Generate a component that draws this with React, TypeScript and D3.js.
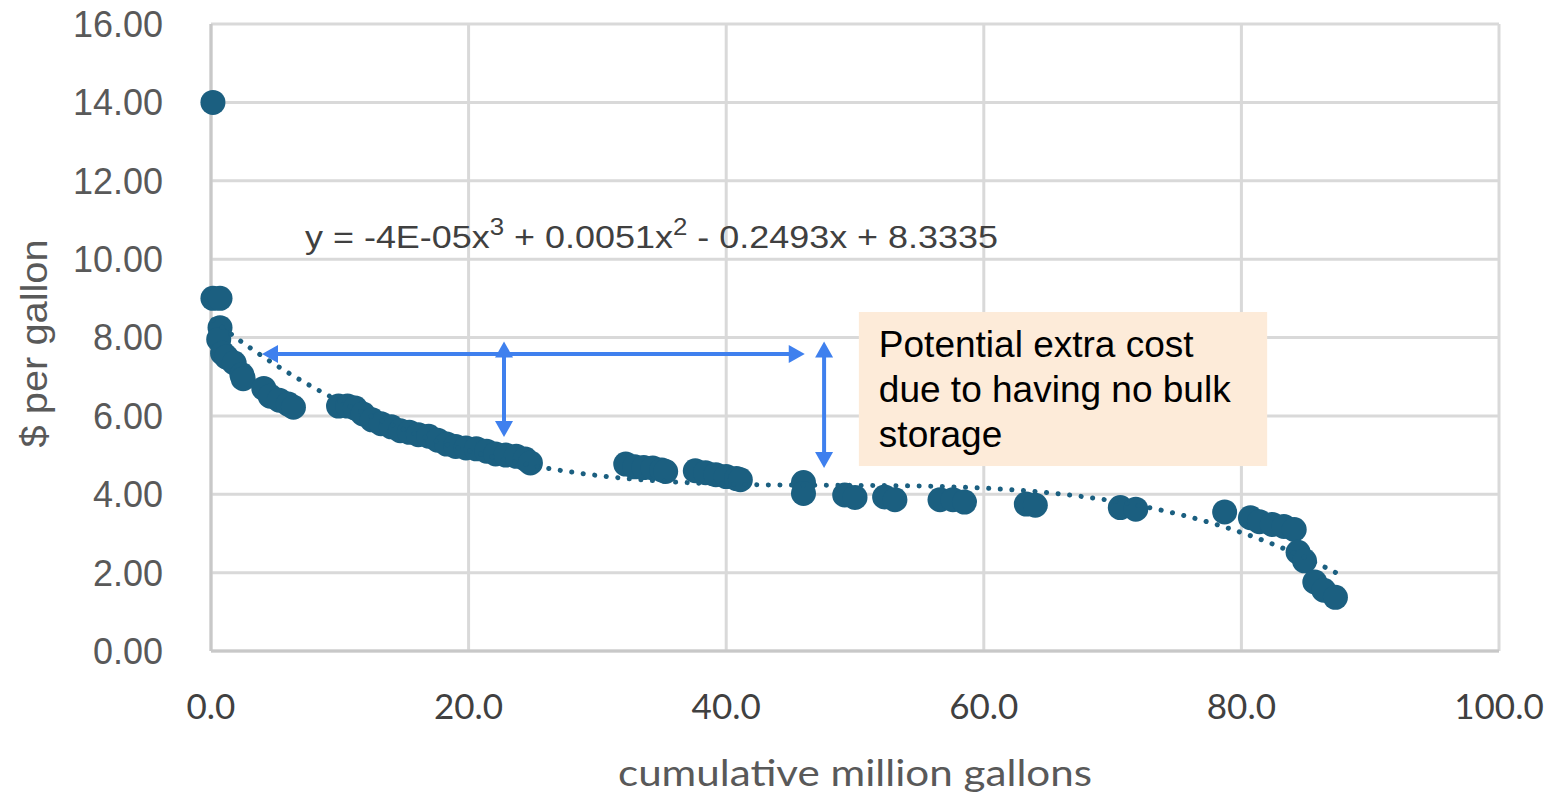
import React from 'react';
import * as d3 from 'd3';

// cumulative million gallons (x) and $ per gallon (y)
const gallons = [
  0.15, 0.15, 0.7, 0.7, 0.6, 0.9, 1.2, 1.8, 2.4, 2.5,
  4.1, 4.6, 5.3, 6.0, 6.4,
  9.9, 10.6, 11.2, 11.8, 12.5, 13.2, 14.0, 14.7, 15.4, 16.1, 16.9, 17.6, 18.3, 19.0, 19.8,
  20.6, 21.4, 22.1, 22.9, 23.7, 24.4, 24.8,
  32.2, 32.9, 33.6, 34.3, 35.0, 35.3,
  37.6, 38.4, 39.2, 40.0, 40.8, 41.1,
  46.0, 46.0, 49.2, 50.0, 52.3, 53.1, 56.6, 57.6, 58.5, 63.3, 64.0,
  70.6, 71.8, 78.7, 80.7, 81.4, 82.4, 83.3, 84.1, 84.4, 84.9, 85.7, 86.4, 87.3,
];
const price = [
  14.0, 9.0, 9.0, 8.25, 7.95, 7.6, 7.5, 7.35, 7.05, 6.95,
  6.7, 6.5, 6.4, 6.3, 6.22,
  6.25, 6.25, 6.2, 6.05, 5.9, 5.8, 5.72, 5.62, 5.58, 5.52, 5.48, 5.38, 5.28, 5.22, 5.18,
  5.16, 5.1, 5.03, 5.0, 4.97, 4.9, 4.8,
  4.77, 4.7, 4.68, 4.67, 4.62, 4.58,
  4.6, 4.55, 4.5, 4.45, 4.4, 4.37,
  4.3, 4.02, 3.98, 3.92, 3.93, 3.86, 3.86, 3.86, 3.8, 3.75, 3.72,
  3.66, 3.62, 3.55, 3.4, 3.3, 3.23, 3.18, 3.1, 2.52, 2.3, 1.76, 1.55, 1.37,
];

const xTicks = [0, 20, 40, 60, 80, 100];
const yTicks = [0, 2, 4, 6, 8, 10, 12, 14, 16];

const boxLines = ['Potential extra cost', 'due to having no bulk', 'storage'];

// annotation arrows in data units [x1, y1, x2, y2]
const arrows = [
  [3.96, 7.58, 46.1, 7.58],
  [22.75, 7.9, 22.75, 5.46],
  [47.6, 7.9, 47.6, 4.67],
];

const W = 1552;
const H = 795;
const margin = { left: 211, right: 53, top: 24, bottom: 144 };

// least squares cubic, like the Excel trendline
function cubicFit(xs: number[], ys: number[]) {
  const n = 4;
  const A = Array.from({ length: n }, () => new Array(n + 1).fill(0));
  xs.forEach((x, k) => {
    for (let i = 0; i < n; i++) {
      for (let j = 0; j < n; j++) A[i][j] += Math.pow(x, i + j);
      A[i][n] += ys[k] * Math.pow(x, i);
    }
  });
  for (let c = 0; c < n; c++) {
    let p = c;
    for (let r = c + 1; r < n; r++) if (Math.abs(A[r][c]) > Math.abs(A[p][c])) p = r;
    [A[c], A[p]] = [A[p], A[c]];
    for (let r = 0; r < n; r++) {
      if (r === c) continue;
      const f = A[r][c] / A[c][c];
      for (let k = c; k <= n; k++) A[r][k] -= f * A[c][k];
    }
  }
  return A.map((row, i) => row[n] / row[i]);
}

function Arrow({ x1, y1, x2, y2 }: { x1: number; y1: number; x2: number; y2: number }) {
  const len = Math.hypot(x2 - x1, y2 - y1);
  const ux = (x2 - x1) / len;
  const uy = (y2 - y1) / len;
  const hl = 16;
  const hw = 9;
  const head = (tx: number, ty: number, dx: number, dy: number) => {
    const bx = tx - dx * hl;
    const by = ty - dy * hl;
    return `M${tx},${ty}L${bx - dy * hw},${by + dx * hw}L${bx + dy * hw},${by - dx * hw}Z`;
  };
  return (
    <g fill="#3f80ee" stroke="none">
      <line
        x1={x1 + ux * (hl - 2)}
        y1={y1 + uy * (hl - 2)}
        x2={x2 - ux * (hl - 2)}
        y2={y2 - uy * (hl - 2)}
        stroke="#3f80ee"
        strokeWidth={4}
      />
      <path d={head(x2, y2, ux, uy)} />
      <path d={head(x1, y1, -ux, -uy)} />
    </g>
  );
}

export default function App() {
  const x = d3.scaleLinear().domain([0, 100]).range([margin.left, W - margin.right]);
  const y = d3.scaleLinear().domain([0, 16]).range([H - margin.bottom, margin.top]);

  const coef = cubicFit(gallons, price);
  const poly = (v: number) => coef[0] + coef[1] * v + coef[2] * v * v + coef[3] * v * v * v;
  const [xmin, xmax] = d3.extent(gallons) as [number, number];
  const trendPts = d3.range(xmin, xmax + 0.01, (xmax - xmin) / 200).map((v) => [v, poly(v)] as [number, number]);
  const trendPath = d3
    .line<[number, number]>()
    .x((d) => x(d[0]))
    .y((d) => y(d[1]))(trendPts);

  const boxX0 = x(50.3);
  const boxX1 = x(82.0);
  const boxY0 = y(8.65);
  const boxY1 = y(4.72);

  return (
    <div style={{ position: 'absolute', left: 0, top: 0 }}>
      <svg width={W} height={H} style={{ display: 'block', background: '#fff' }}>
        {/* gridlines */}
        {yTicks.map((t) => (
          <line key={'gy' + t} x1={x(0)} x2={x(100)} y1={y(t)} y2={y(t)} stroke="#d9d9d9" strokeWidth={3} />
        ))}
        {xTicks.map((t) => (
          <line key={'gx' + t} x1={x(t)} x2={x(t)} y1={y(0)} y2={y(16)} stroke="#d9d9d9" strokeWidth={3} />
        ))}
        <line x1={x(0)} x2={x(0)} y1={y(0)} y2={y(16)} stroke="#c8c8c8" strokeWidth={3} />
        <line x1={x(0)} x2={x(100)} y1={y(0)} y2={y(0)} stroke="#c8c8c8" strokeWidth={3} />

        {/* tick labels */}
        {yTicks.map((t) => (
          <text
            key={'ly' + t}
            x={163}
            y={y(t)}
            dy="0.36em"
            textAnchor="end"
            fontFamily="'Liberation Sans', Arial, sans-serif"
            fontSize={36}
            fill="#595959"
          >
            {t.toFixed(2)}
          </text>
        ))}
        {xTicks.map((t) => (
          <text
            key={'lx' + t}
            x={x(t)}
            y={719}
            textAnchor="middle"
            fontFamily="Lato, sans-serif"
            fontSize={35}
            fill="#404040"
          >
            {t.toFixed(1)}
          </text>
        ))}

        {/* axis titles */}
        <text
          transform={`translate(47,${y(7.85)}) rotate(-90)`}
          textAnchor="middle"
          fontFamily="'Liberation Sans', Arial, sans-serif"
          fontSize={36}
          fill="#595959"
          textLength={208}
          lengthAdjust="spacingAndGlyphs"
        >
          $ per gallon
        </text>
        <text
          x={855}
          y={786}
          textAnchor="middle"
          fontFamily="Lato, sans-serif"
          fontSize={36}
          fill="#595959"
          textLength={474}
          lengthAdjust="spacingAndGlyphs"
        >
          cumulative million gallons
        </text>

        {/* points */}
        {gallons.map((g, i) => (
          <circle key={'p' + i} cx={x(g)} cy={y(price[i])} r={12.5} fill="#1b5f80" />
        ))}

        {/* polynomial trendline */}
        <path
          d={trendPath ?? ''}
          fill="none"
          stroke="#1b5f80"
          strokeWidth={5}
          strokeLinecap="round"
          strokeDasharray="0.1 11.5"
        />

        {/* trendline equation */}
        <text
          x={305}
          y={248}
          fontFamily="'Liberation Sans', Arial, sans-serif"
          fontSize={32}
          fill="#404040"
          textLength={693}
          lengthAdjust="spacingAndGlyphs"
        >
          y = -4E-05x<tspan dy={-13} fontSize={23}>3</tspan>
          <tspan dy={13}> + 0.0051x</tspan>
          <tspan dy={-13} fontSize={23}>2</tspan>
          <tspan dy={13}> - 0.2493x + 8.3335</tspan>
        </text>

        {/* annotation */}
        <rect x={boxX0} y={boxY0} width={boxX1 - boxX0} height={boxY1 - boxY0} fill="#fdebd9" />
        {boxLines.map((l, i) => (
          <text
            key={'b' + i}
            x={boxX0 + 20}
            y={boxY0 + 45 + i * 45}
            fontFamily="'Liberation Sans', Arial, sans-serif"
            fontSize={37}
            fill="#000"
          >
            {l}
          </text>
        ))}

        {arrows.map((a, i) => (
          <Arrow key={'a' + i} x1={x(a[0])} y1={y(a[1])} x2={x(a[2])} y2={y(a[3])} />
        ))}
      </svg>
    </div>
  );
}
